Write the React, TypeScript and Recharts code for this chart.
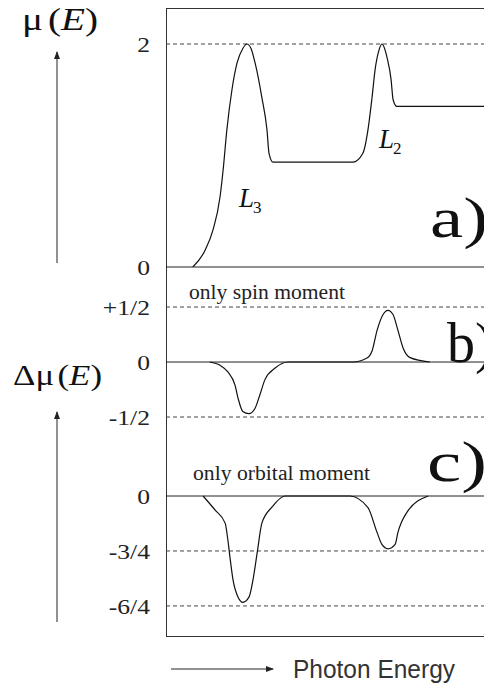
import React from "react";
import { LineChart, Line, XAxis, YAxis, ReferenceLine } from "recharts";

// photon energy, arbitrary units (0..100 across the frame)
const absEnergy = [7.9, 11.5, 13.8, 15.9, 16.8, 17.9, 19.4, 20.9, 22.6, 23.8, 25.0, 26.2, 28.2, 29.7, 30.3, 31.5, 55.0, 57.9, 59.4, 60.6, 61.5, 62.6, 63.5, 64.4, 65.0, 66.2, 66.8, 67.9, 100];
const absMu = [0, 0.15, 0.33, 0.63, 0.87, 1.23, 1.59, 1.83, 1.96, 2.0, 1.96, 1.83, 1.52, 1.23, 1.02, 0.94, 0.94, 1.02, 1.23, 1.52, 1.77, 1.94, 2.0, 1.95, 1.88, 1.68, 1.5, 1.44, 1.44];

const spinEnergy = [12.9, 15.9, 18.2, 20.3, 21.2, 22.6, 24.4, 26.2, 27.6, 29.1, 32.1, 35.9, 55.0, 59.1, 60.6, 62.1, 63.8, 65.3, 66.8, 68.2, 69.7, 71.8, 77.6];
const spinDmu = [0, -0.03, -0.09, -0.21, -0.33, -0.45, -0.47, -0.42, -0.3, -0.16, -0.055, 0, 0, 0.036, 0.1, 0.29, 0.43, 0.47, 0.43, 0.29, 0.13, 0.04, 0];

const orbEnergy = [10.9, 14.4, 17.4, 18.2, 18.8, 19.7, 21.2, 22.6, 24.4, 25.6, 26.8, 28.2, 31.2, 35.0, 54.1, 59.4, 62.1, 63.5, 65.3, 67.4, 68.2, 70.9, 77.1];
const orbDmu = [0, -0.19, -0.37, -0.6, -0.83, -1.14, -1.38, -1.45, -1.38, -1.14, -0.78, -0.37, -0.15, 0, 0, -0.16, -0.5, -0.66, -0.72, -0.66, -0.5, -0.22, 0];

const absTicks = [0, 2];
const absTickLabels = ["0", "2"];
const spinTicks = [-0.5, 0, 0.5];
const spinTickLabels = ["-1/2", "0", "+1/2"];
const orbTicks = [-1.5, -0.75, 0];
const orbTickLabels = ["-6/4", "-3/4", "0"];

const zip = (xs: number[], ys: number[]) => xs.map((e, i) => ({ e, v: ys[i] }));

const SERIF = "'Liberation Serif', 'Times New Roman', serif";
const CHART_W = 506;
const AXIS_W = 166;
const PAD = 24; // room below the plot so the bottom tick label is not cut
const DASH = "4 3";

// tick labels are drawn a little wide, like the old typeset figure
function WideTick(props: any) {
  const { x, y, payload, labels, ticks } = props;
  const label = labels[ticks.indexOf(payload.value)];
  return (
    <text
      transform={`translate(${x},${y}) scale(1.22,1)`}
      textAnchor="end"
      dy="0.36em"
      fontFamily={SERIF}
      fontSize={21}
      fill="#222"
    >
      {label}
    </text>
  );
}

type PanelProps = {
  top: number;
  height: number;
  domain: [number, number];
  data: { e: number; v: number }[];
  ticks: number[];
  labels: string[];
  dashed: number[];
};

function Panel({ top, height, domain, data, ticks, labels, dashed }: PanelProps) {
  return (
    <div style={{ position: "absolute", left: 0, top: top - PAD }}>
      <LineChart
        width={CHART_W}
        height={height + 2 * PAD}
        data={data}
        margin={{ top: PAD, right: 0, bottom: PAD, left: 0 }}
      >
        <XAxis type="number" dataKey="e" domain={[0, 100]} hide />
        <YAxis
          type="number"
          domain={domain}
          allowDataOverflow
          ticks={ticks}
          interval={0}
          width={AXIS_W}
          axisLine={false}
          tickLine={false}
          tickSize={0}
          tickMargin={16}
          tick={<WideTick labels={labels} ticks={ticks} />}
        />
        {dashed.map((y) => (
          <ReferenceLine key={y} y={y} stroke="#444" strokeDasharray={DASH} />
        ))}
        <ReferenceLine y={0} stroke="#222" />
        <Line
          type="monotone"
          dataKey="v"
          stroke="#111"
          strokeWidth={1.2}
          dot={false}
          isAnimationActive={false}
        />
      </LineChart>
    </div>
  );
}

export default function App() {
  return (
    <div
      style={{
        position: "absolute",
        left: 0,
        top: 0,
        width: 484,
        height: 689,
        overflow: "hidden",
        background: "#fff",
      }}
    >
      {/* frame around all three panels */}
      <div
        style={{
          position: "absolute",
          left: 166,
          top: 8,
          width: 400,
          height: 629,
          boxSizing: "border-box",
          border: "1px solid #333",
        }}
      />

      <Panel top={8} height={259} domain={[0, 2.323]} data={zip(absEnergy, absMu)} ticks={absTicks} labels={absTickLabels} dashed={[2]} />
      <Panel top={267} height={173} domain={[-0.709, 0.864]} data={zip(spinEnergy, spinDmu)} ticks={spinTicks} labels={spinTickLabels} dashed={[0.5, -0.5]} />
      <Panel top={440} height={196} domain={[-1.91, 0.764]} data={zip(orbEnergy, orbDmu)} ticks={orbTicks} labels={orbTickLabels} dashed={[-0.75, -1.5]} />

      <svg width={484} height={689} style={{ position: "absolute", left: 0, top: 0, pointerEvents: "none" }}>
        <defs>
          <marker id="head" markerWidth="8" markerHeight="6" refX="7" refY="3" orient="auto" markerUnits="userSpaceOnUse">
            <path d="M0,0 L8,3 L0,6 Z" fill="#222" />
          </marker>
        </defs>

        {/* axis captions */}
        <text x={22} y={30} fontFamily={SERIF} fontSize={32} fill="#111" textLength={76} lengthAdjust="spacingAndGlyphs">
          μ<tspan dx={4}>(</tspan>
          <tspan fontStyle="italic">E</tspan>)
        </text>
        <line x1={57} y1={263} x2={57} y2={52} stroke="#222" strokeWidth={1} markerEnd="url(#head)" />

        <text x={13} y={385} fontFamily={SERIF} fontSize={30} fill="#111" textLength={89} lengthAdjust="spacingAndGlyphs">
          Δμ<tspan dx={3}>(</tspan>
          <tspan fontStyle="italic">E</tspan>)
        </text>
        <line x1={57} y1={622} x2={57} y2={412} stroke="#222" strokeWidth={1} markerEnd="url(#head)" />

        <line x1={171} y1={669} x2={273} y2={669} stroke="#222" strokeWidth={1} markerEnd="url(#head)" />
        <text x={293} y={678} fontFamily="'Liberation Sans', Arial, sans-serif" fontSize={26} fill="#333" textLength={162} lengthAdjust="spacingAndGlyphs">
          Photon Energy
        </text>

        {/* edge labels */}
        <text x={239} y={207} fontFamily={SERIF} fontSize={27} fontStyle="italic" fill="#111">L</text>
        <text x={253} y={213} fontFamily={SERIF} fontSize={17} fill="#111">3</text>
        <text x={379} y={148} fontFamily={SERIF} fontSize={27} fontStyle="italic" fill="#111">L</text>
        <text x={393} y={154} fontFamily={SERIF} fontSize={17} fill="#111">2</text>

        {/* panel notes */}
        <text x={189} y={299} fontFamily={SERIF} fontSize={20} fill="#222" textLength={156} lengthAdjust="spacingAndGlyphs">
          only spin moment
        </text>
        <text x={193} y={480} fontFamily={SERIF} fontSize={20} fill="#222" textLength={177} lengthAdjust="spacingAndGlyphs">
          only orbital moment
        </text>

        <text x={430} y={237} fontFamily={SERIF} fontSize={56} fill="#111" textLength={58} lengthAdjust="spacingAndGlyphs">a)</text>
        <text x={447} y={362} fontFamily={SERIF} fontSize={56} fill="#111">b)</text>
        <text x={427} y={481} fontFamily={SERIF} fontSize={56} fill="#111" textLength={60} lengthAdjust="spacingAndGlyphs">c)</text>
      </svg>
    </div>
  );
}
